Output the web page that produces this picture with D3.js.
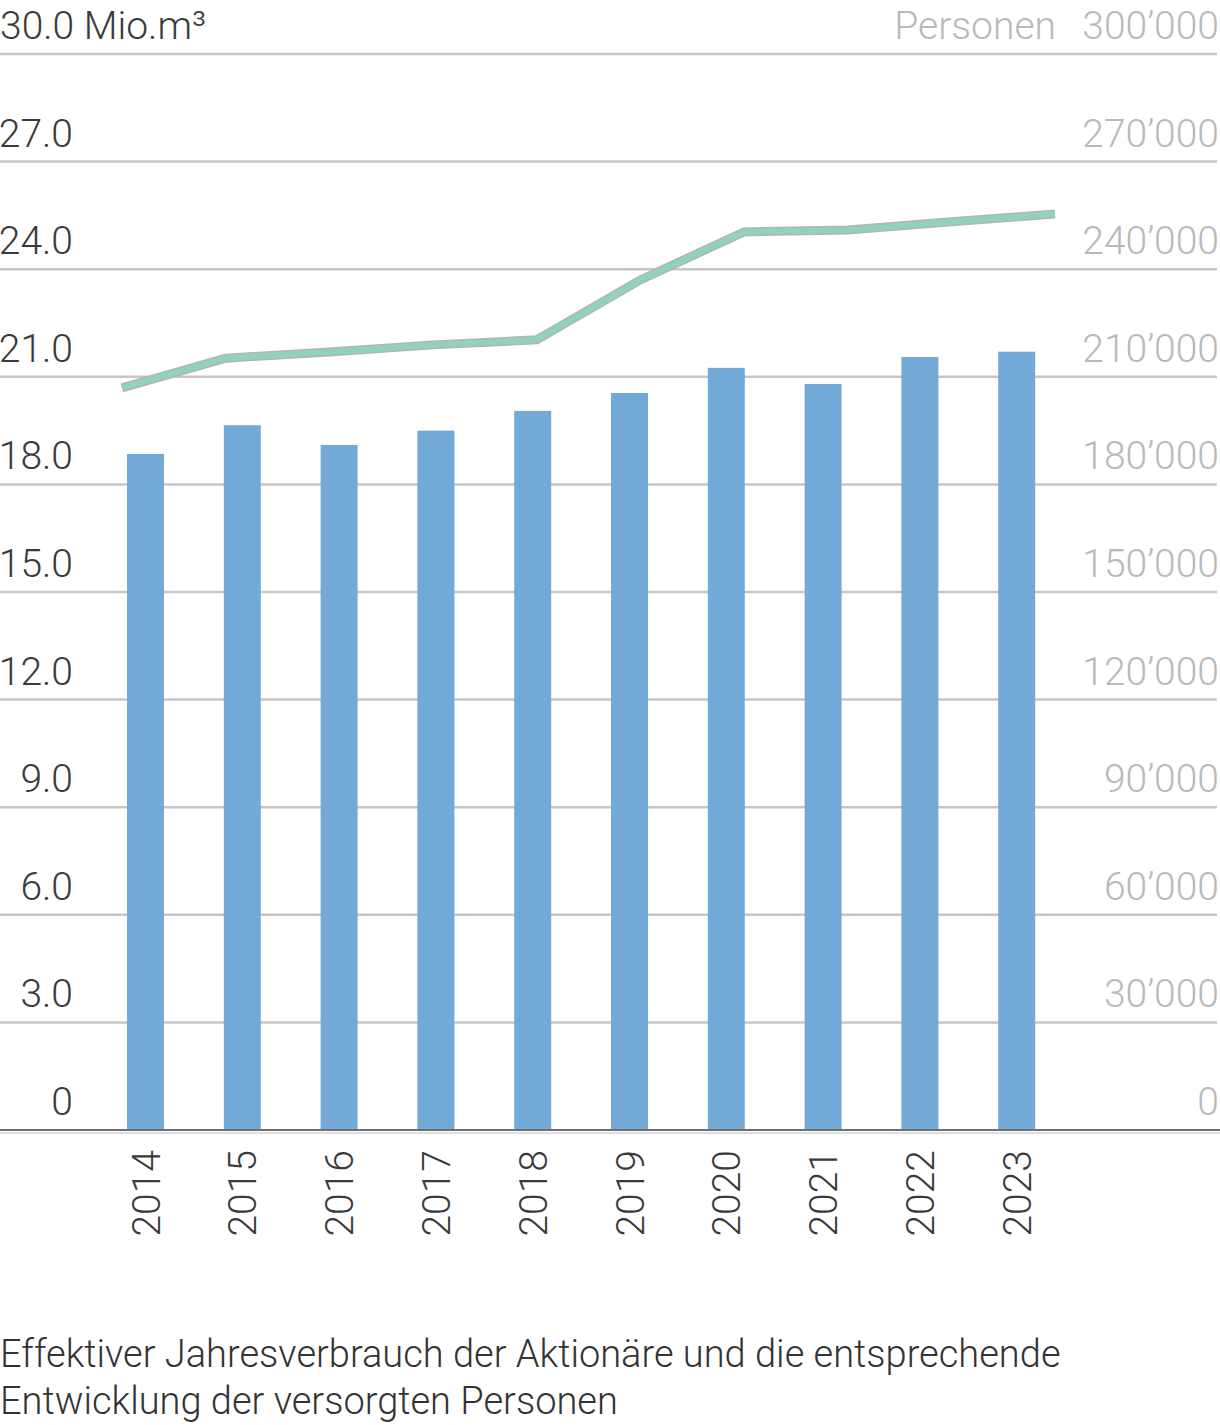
<!DOCTYPE html>
<html lang="de">
<head>
  <meta charset="utf-8">
  <title>Jahresverbrauch und versorgte Personen</title>
  <script src="https://d3js.org/d3.v7.min.js"></script>
  <style>
    body {
      margin: 0;
      padding: 0;
      background: #fff;
      overflow: hidden;
    }
    text {
      font-family: Roboto, "Noto Sans", sans-serif;
      font-weight: 300;
    }
  </style>
</head>
<body>
  <svg id="chart"></svg>

  <script>
    // Data
    const years = ["2014", "2015", "2016", "2017", "2018", "2019", "2020", "2021", "2022", "2023"];
    const verbrauch = [18.85, 19.65, 19.1, 19.5, 20.05, 20.55, 21.25, 20.8, 21.55, 21.7]; // Mio. m3
    const personen = [206900, 215200, 216900, 218900, 220300, 237000, 250400, 250900, 253200, 255400];
    const leftTicks = [0, 3, 6, 9, 12, 15, 18, 21, 24, 27, 30];
    const titleLines = [
      "Effektiver Jahresverbrauch der Aktionäre und die entsprechende",
      "Entwicklung der versorgten Personen"
    ];

    const width = 1220;
    const height = 1425;

    const svg = d3.select("#chart")
      .attr("width", width)
      .attr("height", height);

    // Scales
    const y = d3.scaleLinear().domain([0, 30]).range([1130, 54]);
    const yRight = d3.scaleLinear().domain([0, 300000]).range([1130, 54]);

    const x = d3.scaleBand()
      .domain(years)
      .range([97.1, 1065.1])
      .paddingInner(0.618)
      .paddingOuter(0.309);

    // the line runs a little wider than the bars
    const xLine = d3.scalePoint().domain(years).range([122, 1055]);

    const fmtRight = v => v === 0 ? "0" : d3.format(",")(v).replace(/,/g, "’");
    const fmtLeft = v => v === 0 ? "0" : d3.format(".1f")(v);

    // Gridlines
    svg.append("g")
      .selectAll("line")
      .data(leftTicks.filter(d => d > 0))
      .enter().append("line")
      .attr("x1", 0)
      .attr("x2", 1217)
      .attr("y1", d => y(d))
      .attr("y2", d => y(d))
      .attr("stroke", "#c6c6c6")
      .attr("stroke-width", 2.5);

    // Left tick labels
    svg.append("g")
      .selectAll("text")
      .data(leftTicks)
      .enter().append("text")
      .attr("x", d => d === 30 ? 0 : 73)
      .attr("y", d => y(d) - 15)
      .attr("text-anchor", d => d === 30 ? "start" : "end")
      .attr("font-size", 39)
      .attr("fill", "#3a3a3a")
      .text(d => d === 30 ? "30.0 Mio.m³" : fmtLeft(d));

    // Right tick labels
    svg.append("g")
      .selectAll("text")
      .data(leftTicks)
      .enter().append("text")
      .attr("x", 1219)
      .attr("y", d => yRight(d * 10000) - 15)
      .attr("text-anchor", "end")
      .attr("font-size", 39)
      .attr("fill", "#b9b9b9")
      .text(d => fmtRight(d * 10000));

    svg.append("text")
      .attr("x", 1056)
      .attr("y", y(30) - 15)
      .attr("text-anchor", "end")
      .attr("font-size", 39)
      .attr("fill", "#b9b9b9")
      .text("Personen");

    // Bars
    svg.append("g")
      .selectAll("rect")
      .data(verbrauch)
      .enter().append("rect")
      .attr("x", (d, i) => x(years[i]))
      .attr("y", d => y(d))
      .attr("width", x.bandwidth())
      .attr("height", d => y(0) - y(d))
      .attr("fill", "#72a9d7");

    // Baseline
    svg.append("line")
      .attr("x1", 0)
      .attr("x2", width)
      .attr("y1", y(0) + 3)
      .attr("y2", y(0) + 3)
      .attr("stroke", "#dedede")
      .attr("stroke-width", 2);

    svg.append("line")
      .attr("x1", 0)
      .attr("x2", width)
      .attr("y1", y(0))
      .attr("y2", y(0))
      .attr("stroke", "#6f6f6f")
      .attr("stroke-width", 2);

    // Line for persons
    const line = d3.line()
      .x((d, i) => xLine(years[i]))
      .y(d => yRight(d));

    svg.append("path")
      .datum(personen)
      .attr("d", line)
      .attr("fill", "none")
      .attr("stroke", "#b4b4b4")
      .attr("stroke-width", 9);

    svg.append("path")
      .datum(personen)
      .attr("d", line)
      .attr("fill", "none")
      .attr("stroke", "#8fd3bc")
      .attr("stroke-width", 6);

    // Year labels, rotated
    svg.append("g")
      .selectAll("text")
      .data(years)
      .enter().append("text")
      .attr("transform", d => `translate(${x(d) + x.bandwidth() / 2},1150) rotate(-90)`)
      .attr("dy", "0.36em")
      .attr("text-anchor", "end")
      .attr("font-size", 39)
      .attr("fill", "#3a3a3a")
      .text(d => d);

    // Caption
    svg.append("g")
      .selectAll("text")
      .data(titleLines)
      .enter().append("text")
      .attr("x", 0)
      .attr("y", (d, i) => 1367 + i * 47)
      .attr("font-size", 38)
      .attr("fill", "#333")
      .text(d => d);
  </script>
</body>
</html>
